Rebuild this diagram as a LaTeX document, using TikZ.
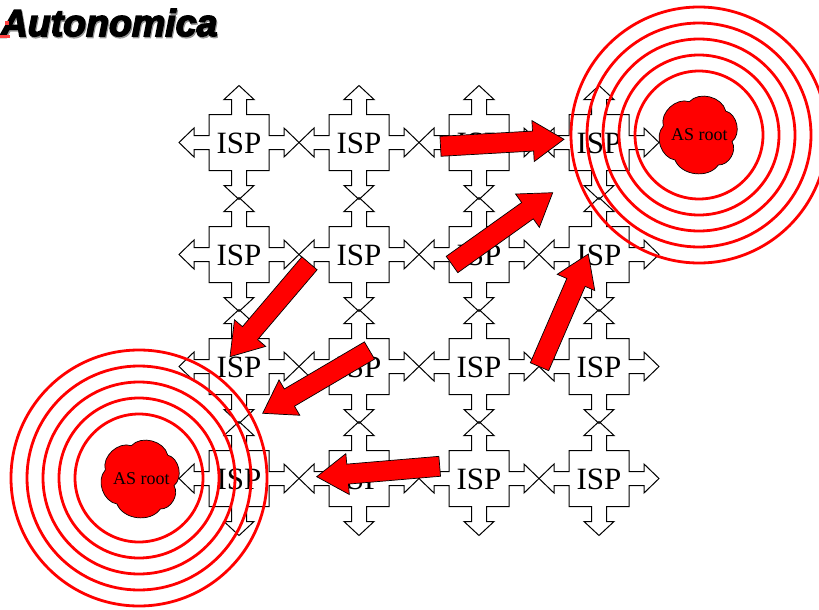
\documentclass[tikz,border=0pt]{standalone}
\usepackage{fontspec}
\setmainfont{Liberation Serif}
\newfontfamily\logofont[FakeBold=4]{Liberation Sans}
\usetikzlibrary{calc}
\definecolor{ringred}{RGB}{255, 0, 0}
\definecolor{logogray}{RGB}{150, 150, 150}

\tikzset{
  isplabel/.style={inner sep=0pt, font=\fontsize{31}{31}\selectfont},
  rootlabel/.style={inner sep=0pt, font=\fontsize{18}{18}\selectfont},
  logotext/.style={anchor=base west, inner sep=0pt, font=\logofont\fontsize{37.5}{37.5}\selectfont\bfseries\itshape},
  ring/.style={ringred, line width=2.8pt},
  ispcross/.style={black, line width=1pt},
  fatarrow/.style={draw=black, line width=0.7pt, fill=ringred, line join=miter},
  pics/ispshape/.style={code={
    \draw[ispcross] (-30,-28) -- (-7.5,-28) -- (-7.5,-43) -- (-15,-43) -- (0,-57) -- (15,-43) -- (7.5,-43) -- (7.5,-28)
      -- (30,-28) -- (30,-7) -- (45,-7) -- (45,-14.5) -- (60,0) -- (45,14.5) -- (45,7) -- (30,7)
      -- (30,28) -- (7.5,28) -- (7.5,43) -- (15,43) -- (0,57) -- (-15,43) -- (-7.5,43) -- (-7.5,28)
      -- (-30,28) -- (-30,7) -- (-45,7) -- (-45,14.5) -- (-60,0) -- (-45,-14.5) -- (-45,-7) -- (-30,-7) -- cycle;
  }},
  pics/rootcloud/.style={code={
    \draw[black, line width=0.7pt, fill=ringred] (-9.2,-31.3) to[bend left=62] (27.2,-22) to[bend left=62] (33.5,8.7)
      to[bend left=62] (19.8,32) to[bend left=62] (-23.5,27) to[bend left=62] (-35.2,-7) to[bend left=62] cycle;
  }}
}

% tail point, tip point
\newcommand{\fatarrowfrom}[2]{
  \coordinate (tail) at #1;
  \coordinate (tip) at #2;
  \coordinate (neck) at ($(tip)!31pt!(tail)$);
  \draw[fatarrow] ($(tail)!10pt!90:(tip)$) -- ($(neck)!10pt!90:(tip)$) -- ($(neck)!20.5pt!90:(tip)$)
    -- (tip) -- ($(neck)!20.5pt!-90:(tip)$) -- ($(neck)!10pt!-90:(tip)$) -- ($(tail)!10pt!-90:(tip)$) -- cycle;
}

\begin{document}
\begin{tikzpicture}[x=1pt, y=-1pt]
  \useasboundingbox (0,0) rectangle (819,610);

  % Logo
  \node[logotext, logogray] (logoshadow) at (1.5,37.5) {Autonomica};
  \node[logotext, black] (logo) at (0.5,36) {Autonomica};
  \fill[ringred!75] (0,35) rectangle (10,38);
  \fill[ringred!75] (5,21) rectangle (9,25);

  % ISP grid
  \foreach \col/\x in {1/239, 2/359, 3/479, 4/599} {
    \foreach \row/\y in {1/142.5, 2/254.5, 3/366.5, 4/478.5} {
      \pic at (\x,\y) {ispshape};
      \node[isplabel] (isp-\row-\col) at (\x,\y+0.5) {ISP};
    }
  }

  % AS roots
  \pic at (698.5,133) {rootcloud};
  \node[rootlabel] (root-a) at (699.3,134.7) {AS root};
  \pic at (140.5,477) {rootcloud};
  \node[rootlabel] (root-b) at (141.3,479) {AS root};

  % Rings
  \foreach \r in {64, 80, 96, 112, 128} {
    \draw[ring] (699,135) circle (\r);
    \draw[ring] (139,478) circle (\r);
  }

  % Big arrows
  \fatarrowfrom{(440.5,146.3)}{(564,139.3)}
  \fatarrowfrom{(452,264.5)}{(552.7,192.7)}
  \fatarrowfrom{(309.5,263.3)}{(230,356.7)}
  \fatarrowfrom{(369.5,350.5)}{(262.7,413.3)}
  \fatarrowfrom{(539.5,366.7)}{(588.3,254)}
  \fatarrowfrom{(439.7,466.3)}{(316.7,476.7)}

\end{tikzpicture}
\end{document}
